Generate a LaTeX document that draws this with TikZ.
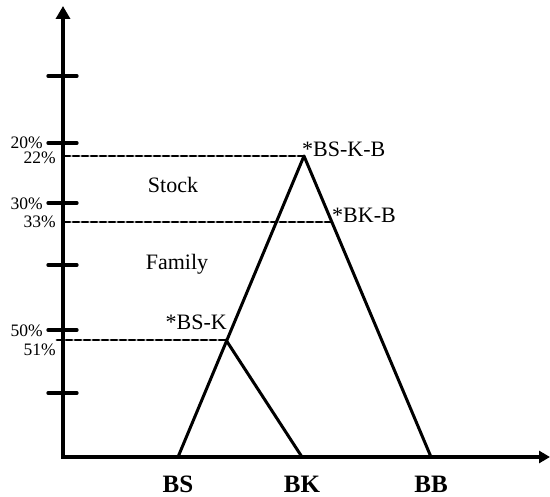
\documentclass[tikz,border=0pt]{standalone}
\usepackage{fontspec}
\setmainfont{Liberation Serif}
\usepackage{tikz}
\usepackage{tkz-euclide}
\usetikzlibrary{arrows.meta}

\begin{document}
\begin{tikzpicture}[x=1pt, y=-1pt,
    axis/.style={line width=3.5pt, {Triangle[length=13pt,width=14pt]}-{Triangle[length=11pt,width=12pt]}},
    tick/.style={line width=3.3pt},
    branch/.style={line width=3pt},
    level/.style={line width=2.7pt, dash pattern=on 6pt off 3pt},
    pct/.style={font=\fontsize{17.5}{17.5}\selectfont, anchor=east, inner sep=0pt},
    tag/.style={font=\fontsize{22}{22}\selectfont, inner sep=0pt},
    leaf/.style={font=\fontsize{25}{25}\selectfont\bfseries, inner sep=0pt, anchor=base}]
    \useasboundingbox (0,0) rectangle (550,497);

    \tkzDefPoint(63,6){Y}
    \tkzDefPoint(63,457){O}
    \tkzDefPoint(550,457){X}
    \draw[axis] (Y) -- (O) -- (X);

    % ticks on the vertical axis
    \tkzDefPoint(48,76){T1}   \tkzDefPoint(77,76){U1}
    \tkzDefPoint(48,143){T2}  \tkzDefPoint(77,143){U2}
    \tkzDefPoint(48,203){T3}  \tkzDefPoint(77,203){U3}
    \tkzDefPoint(48,265){T4}  \tkzDefPoint(77,265){U4}
    \tkzDefPoint(48,330){T5}  \tkzDefPoint(77,330){U5}
    \tkzDefPoint(48,393){T6}  \tkzDefPoint(77,393){U6}
    \tkzDrawSegments[tick](T1,U1 T2,U2 T3,U3 T4,U4 T5,U5 T6,U6)

    % tree
    \tkzDefPoint(178,457){BS}
    \tkzDefPoint(302,457){BK}
    \tkzDefPoint(431,457){BB}
    \tkzDefPoint(304,156){BSKB}
    \tkzDefPoint(226,340){BSK}
    \tkzDefPoint(331,222){BKB}
    \tkzDrawSegments[branch](BS,BSKB BSKB,BB BSK,BK)

    \tkzDefPoint(64,156){L1}
    \tkzDefPoint(64,222){L2}
    \tkzDefPoint(57,340){L3}
    \tkzDrawSegments[level](L1,BSKB L2,BKB L3,BSK)

    \node[pct] (p20) at (43,143) {20\%};
    \node[pct] (p22) at (56,158) {22\%};
    \node[pct] (p30) at (43,204) {30\%};
    \node[pct] (p33) at (56,222) {33\%};
    \node[pct] (p50) at (43,331) {50\%};
    \node[pct] (p51) at (56,350) {51\%};

    \node[tag, anchor=base] (stock) at (173,193) {Stock};
    \node[tag, anchor=base] (family) at (177,270) {Family};
    \node[tag, anchor=base west] (tBSKB) at (302,157) {*BS-K-B};
    \node[tag, anchor=base west] (tBKB) at (332,223) {*BK-B};
    \node[tag, anchor=base east] (tBSK) at (227,330) {*BS-K};

    \node[leaf] (lBS) at (178,493) {BS};
    \node[leaf] (lBK) at (302,493) {BK};
    \node[leaf] (lBB) at (431,493) {BB};
    \end{tikzpicture}
\end{document}
